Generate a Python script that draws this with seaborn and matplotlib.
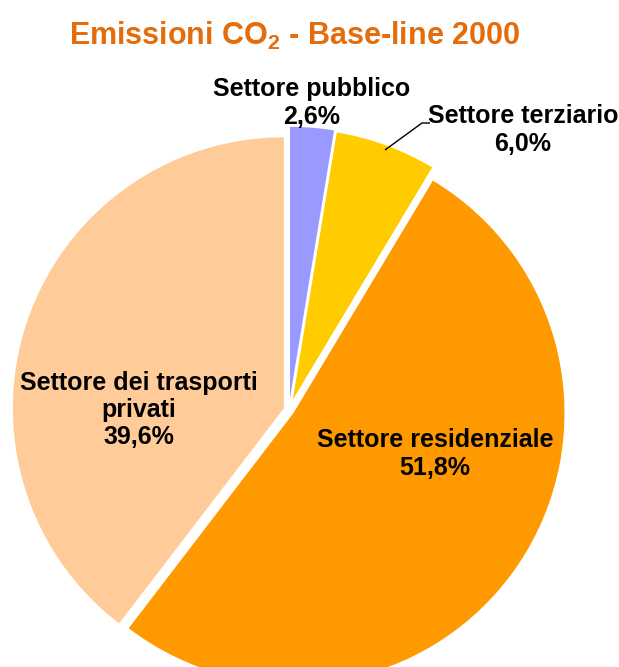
import matplotlib
matplotlib.use("Agg")
import matplotlib.pyplot as plt
import seaborn as sns

# ---- data ----
categories = ["Settore pubblico", "Settore terziario", "Settore residenziale",
              "Settore dei trasporti\nprivati"]
values = [2.6, 6.0, 51.8, 39.6]
colors = ["#9999FF", "#FFCC00", "#FF9900", "#FFCC99"]
explode = [0.045, 0.04, 0.02, 0.02]

sns.set_style("white")
plt.rcParams["font.family"] = ["Liberation Sans", "DejaVu Sans"]
plt.rcParams["mathtext.fontset"] = "custom"
plt.rcParams["mathtext.rm"] = "Liberation Sans:bold"
plt.rcParams["mathtext.it"] = "Liberation Sans:bold"
plt.rcParams["mathtext.bf"] = "Liberation Sans:bold"

W, H = 619, 667
fig = plt.figure(figsize=(W / 100, H / 100), dpi=100)
ax = fig.add_axes([0, 0, 1, 1])

wedges, _ = ax.pie(values, colors=colors, explode=explode, startangle=90,
                   counterclock=False, radius=1.0,
                   wedgeprops=dict(linewidth=0))

# pixel geometry of the pie
cx, cy, R = 289, 410, 271
ax.set_aspect("auto")
ax.set_xlim(-cx / R, (W - cx) / R)
ax.set_ylim(-(H - cy) / R, cy / R)
ax.axis("off")

def P(px, py):
    return (px - cx) / R, (cy - py) / R

def pct(v):
    return f"{v:.1f}".replace(".", ",") + "%"

label_pos = [(312, 103), (523, 130), (435, 454), (139, 410)]
fs = 18
for cat, v, (px, py) in zip(categories, values, label_pos):
    x, y = P(px, py)
    ax.text(x, y, f"{cat}\n{pct(v)}", ha="center", va="center",
            fontsize=fs, fontweight="bold", color="black",
            linespacing=1.17)

# leader line for terziario
lx, ly = zip(P(385, 150), P(422, 123), P(430, 123))
ax.plot(lx, ly, color="black", lw=1.0, solid_capstyle="butt")

fig.text(295 / W, 1 - 36 / H, r"Emissioni CO$_2$ - Base-line 2000",
         ha="center", va="center", fontsize=22, fontweight="bold",
         color="#E46C0A")

fig.savefig("out.png", dpi=100)
